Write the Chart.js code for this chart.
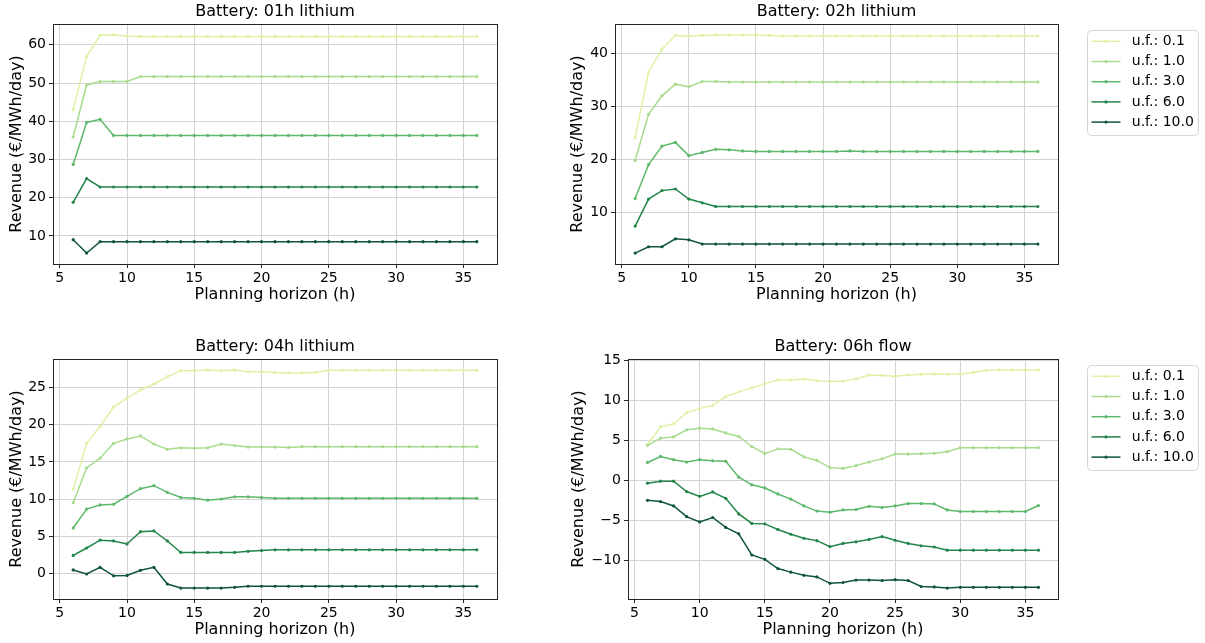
<!DOCTYPE html>
<html lang="fr">
<head>
<meta charset="utf-8">
<title>Revenue vs planning horizon</title>
<script src="https://cdn.jsdelivr.net/npm/chart.js@4.4.1/dist/chart.umd.min.js"></script>
<style>
    html, body { margin: 0; padding: 0; background: #fff; }
    #figure { position: relative; width: 1205px; height: 643px; overflow: hidden; }
    #figure canvas { position: absolute; }
</style>
</head>
<body>
<div id="figure">
    <canvas id="graphique-01h" width="530" height="320" style="left:0px;top:0px"></canvas>
    <canvas id="graphique-02h" width="645" height="320" style="left:560px;top:0px"></canvas>
    <canvas id="graphique-04h" width="530" height="313" style="left:0px;top:330px"></canvas>
    <canvas id="graphique-06h" width="645" height="313" style="left:560px;top:330px"></canvas>
</div>
<script>
/* global Chart */

// Horizon de planification (h), commun aux 4 graphiques
const horizons = [6, 7, 8, 9, 10, 11, 12, 13, 14, 15,
    16, 17, 18, 19, 20, 21, 22, 23, 24, 25,
    26, 27, 28, 29, 30, 31, 32, 33, 34, 35,
    36];

const facteurs = ["u.f.: 0.1", "u.f.: 1.0", "u.f.: 3.0", "u.f.: 6.0", "u.f.: 10.0"];
const xTicks = [5, 10, 15, 20, 25, 30, 35];

// Battery: 01h lithium
const lithium01h_uf01 = [43.0, 57.0, 62.5, 62.6, 62.3, 62.2, 62.2, 62.2, 62.2, 62.2,
    62.2, 62.2, 62.2, 62.2, 62.2, 62.2, 62.2, 62.2, 62.2, 62.2,
    62.2, 62.2, 62.2, 62.2, 62.2, 62.2, 62.2, 62.2, 62.2, 62.2,
    62.2];
const lithium01h_uf1 = [35.9, 49.5, 50.4, 50.4, 50.4, 51.7, 51.7, 51.7, 51.7, 51.7,
    51.7, 51.7, 51.7, 51.7, 51.7, 51.7, 51.7, 51.7, 51.7, 51.7,
    51.7, 51.7, 51.7, 51.7, 51.7, 51.7, 51.7, 51.7, 51.7, 51.7,
    51.7];
const lithium01h_uf3 = [28.7, 39.7, 40.5, 36.3, 36.3, 36.3, 36.3, 36.3, 36.3, 36.3,
    36.3, 36.3, 36.3, 36.3, 36.3, 36.3, 36.3, 36.3, 36.3, 36.3,
    36.3, 36.3, 36.3, 36.3, 36.3, 36.3, 36.3, 36.3, 36.3, 36.3,
    36.3];
const lithium01h_uf6 = [18.8, 25.0, 22.8, 22.8, 22.8, 22.8, 22.8, 22.8, 22.8, 22.8,
    22.8, 22.8, 22.8, 22.8, 22.8, 22.8, 22.8, 22.8, 22.8, 22.8,
    22.8, 22.8, 22.8, 22.8, 22.8, 22.8, 22.8, 22.8, 22.8, 22.8,
    22.8];
const lithium01h_uf10 = [9.0, 5.5, 8.5, 8.5, 8.5, 8.5, 8.5, 8.5, 8.5, 8.5,
    8.5, 8.5, 8.5, 8.5, 8.5, 8.5, 8.5, 8.5, 8.5, 8.5,
    8.5, 8.5, 8.5, 8.5, 8.5, 8.5, 8.5, 8.5, 8.5, 8.5,
    8.5];

// Battery: 02h lithium
const lithium02h_uf01 = [24.1, 36.5, 40.8, 43.4, 43.3, 43.4, 43.5, 43.5, 43.5, 43.5,
    43.4, 43.3, 43.3, 43.3, 43.3, 43.3, 43.3, 43.3, 43.3, 43.3,
    43.3, 43.3, 43.3, 43.3, 43.3, 43.3, 43.3, 43.3, 43.3, 43.3,
    43.3];
const lithium02h_uf1 = [19.8, 28.5, 32.0, 34.2, 33.7, 34.7, 34.7, 34.6, 34.6, 34.6,
    34.6, 34.6, 34.6, 34.6, 34.6, 34.6, 34.6, 34.6, 34.6, 34.6,
    34.6, 34.6, 34.6, 34.6, 34.6, 34.6, 34.6, 34.6, 34.6, 34.6,
    34.6];
const lithium02h_uf3 = [12.6, 19.0, 22.5, 23.2, 20.7, 21.3, 21.9, 21.8, 21.6, 21.5,
    21.5, 21.5, 21.5, 21.5, 21.5, 21.5, 21.6, 21.5, 21.5, 21.5,
    21.5, 21.5, 21.5, 21.5, 21.5, 21.5, 21.5, 21.5, 21.5, 21.5,
    21.5];
const lithium02h_uf6 = [7.4, 12.5, 14.1, 14.4, 12.5, 11.8, 11.1, 11.1, 11.1, 11.1,
    11.1, 11.1, 11.1, 11.1, 11.1, 11.1, 11.1, 11.1, 11.1, 11.1,
    11.1, 11.1, 11.1, 11.1, 11.1, 11.1, 11.1, 11.1, 11.1, 11.1,
    11.1];
const lithium02h_uf10 = [2.3, 3.5, 3.5, 5.0, 4.8, 4.0, 4.0, 4.0, 4.0, 4.0,
    4.0, 4.0, 4.0, 4.0, 4.0, 4.0, 4.0, 4.0, 4.0, 4.0,
    4.0, 4.0, 4.0, 4.0, 4.0, 4.0, 4.0, 4.0, 4.0, 4.0,
    4.0];

// Battery: 04h lithium
const lithium04h_uf01 = [11.3, 17.5, 19.8, 22.4, 23.6, 24.7, 25.5, 26.5, 27.3, 27.3,
    27.4, 27.3, 27.4, 27.15, 27.15, 27.05, 27.0, 27.0, 27.05, 27.35,
    27.35, 27.35, 27.35, 27.35, 27.35, 27.35, 27.35, 27.35, 27.35, 27.35,
    27.35];
const lithium04h_uf1 = [9.5, 14.2, 15.5, 17.5, 18.1, 18.5, 17.4, 16.7, 16.9, 16.85,
    16.9, 17.4, 17.2, 17.0, 17.0, 17.0, 16.95, 17.05, 17.05, 17.05,
    17.05, 17.05, 17.05, 17.05, 17.05, 17.05, 17.05, 17.05, 17.05, 17.05,
    17.05];
const lithium04h_uf3 = [6.1, 8.65, 9.2, 9.3, 10.35, 11.4, 11.8, 10.9, 10.2, 10.1,
    9.85, 10.0, 10.3, 10.3, 10.2, 10.1, 10.1, 10.1, 10.1, 10.1,
    10.1, 10.1, 10.1, 10.1, 10.1, 10.1, 10.1, 10.1, 10.1, 10.1,
    10.1];
const lithium04h_uf6 = [2.4, 3.4, 4.45, 4.35, 3.95, 5.6, 5.7, 4.35, 2.8, 2.8,
    2.8, 2.8, 2.8, 2.95, 3.05, 3.15, 3.15, 3.15, 3.15, 3.15,
    3.15, 3.15, 3.15, 3.15, 3.15, 3.15, 3.15, 3.15, 3.15, 3.15,
    3.15];
const lithium04h_uf10 = [0.45, -0.1, 0.8, -0.35, -0.3, 0.4, 0.8, -1.45, -2.0, -2.0,
    -2.0, -2.0, -1.9, -1.75, -1.75, -1.75, -1.75, -1.75, -1.75, -1.75,
    -1.75, -1.75, -1.75, -1.75, -1.75, -1.75, -1.75, -1.75, -1.75, -1.75,
    -1.75];

// Battery: 06h flow
const flux06h_uf01 = [4.5, 6.7, 7.1, 8.5, 9.0, 9.4, 10.5, 11.1, 11.6, 12.1,
    12.6, 12.6, 12.7, 12.5, 12.4, 12.45, 12.7, 13.2, 13.15, 13.05,
    13.2, 13.3, 13.35, 13.3, 13.35, 13.55, 13.8, 13.85, 13.85, 13.85,
    13.85];
const flux06h_uf1 = [4.4, 5.3, 5.45, 6.35, 6.55, 6.45, 5.95, 5.5, 4.25, 3.35,
    3.95, 3.9, 2.95, 2.5, 1.6, 1.5, 1.85, 2.3, 2.7, 3.3,
    3.3, 3.35, 3.4, 3.6, 4.1, 4.1, 4.1, 4.1, 4.1, 4.1,
    4.1];
const flux06h_uf3 = [2.25, 3.0, 2.6, 2.3, 2.6, 2.45, 2.4, 0.4, -0.55, -0.95,
    -1.7, -2.35, -3.2, -3.85, -4.0, -3.7, -3.65, -3.25, -3.4, -3.2,
    -2.9, -2.9, -2.95, -3.7, -3.9, -3.9, -3.9, -3.9, -3.9, -3.9,
    -3.15];
const flux06h_uf6 = [-0.35, -0.1, -0.1, -1.4, -2.0, -1.45, -2.25, -4.2, -5.4, -5.45,
    -6.15, -6.75, -7.25, -7.55, -8.3, -7.9, -7.7, -7.4, -7.05, -7.5,
    -7.9, -8.2, -8.35, -8.75, -8.75, -8.75, -8.75, -8.75, -8.75, -8.75,
    -8.75];
const flux06h_uf10 = [-2.5, -2.65, -3.2, -4.55, -5.2, -4.65, -5.9, -6.7, -9.35, -9.9,
    -11.05, -11.5, -11.9, -12.1, -12.9, -12.8, -12.5, -12.5, -12.55, -12.45,
    -12.55, -13.3, -13.35, -13.5, -13.4, -13.4, -13.4, -13.4, -13.4, -13.4,
    -13.4];

// Couleurs des courbes (jaune clair -> vert foncé)
const couleurs = ["#ddf2a6", "#a9db8e", "#5cb96a", "#238549", "#0f5536"];

Chart.defaults.font.family = "'DejaVu Sans', sans-serif";
Chart.defaults.color = "#000";

// Cadre noir autour de la zone de tracé (comme les "spines" matplotlib)
const cadre = {
    id: "cadre",
    afterDatasetsDraw(chart) {
        const { ctx, chartArea: a } = chart;
        ctx.save();
        ctx.strokeStyle = "#262626";
        ctx.lineWidth = 1;
        const l = Math.round(a.left) + 0.5, t = Math.round(a.top) + 0.5;
        const r = Math.round(a.right) + 0.5, b = Math.round(a.bottom) + 0.5;
        ctx.strokeRect(l, t, r - l, b - t);
        ctx.restore();
    }
};

// Légende encadrée à droite du graphique
const legendeCadre = {
    id: "legendeCadre",
    afterDraw(chart, args, opts) {
        if (!opts.afficher) return;
        const ctx = chart.ctx;
        const { x, y, largeur, hauteur } = opts;
        ctx.save();
        ctx.beginPath();
        ctx.roundRect(x + 0.5, y + 0.5, largeur, hauteur, 4);
        ctx.fillStyle = "rgba(255,255,255,0.8)";
        ctx.fill();
        ctx.strokeStyle = "#d6d6d6";
        ctx.lineWidth = 1;
        ctx.stroke();
        ctx.font = "14px 'DejaVu Sans'";
        ctx.textBaseline = "middle";
        ctx.textAlign = "left";
        chart.data.datasets.forEach((ds, i) => {
            const yl = y + 11.3 + i * 20.2;
            ctx.strokeStyle = ds.borderColor;
            ctx.lineWidth = 1.5;
            ctx.beginPath();
            ctx.moveTo(x + 4.5, yl);
            ctx.lineTo(x + 33.5, yl);
            ctx.stroke();
            ctx.fillStyle = ds.borderColor;
            ctx.beginPath();
            ctx.arc(x + 19, yl, 1.6, 0, Math.PI * 2);
            ctx.fill();
            ctx.fillStyle = "#000";
            ctx.fillText(ds.label, x + 44.8, yl);
        });
        ctx.restore();
    }
};

function afficherGraphique(idCanvas, titre, series, yTicks, geo) {
    // marges de 5 % comme matplotlib
    const toutes = series.flat();
    const yMin = Math.min(...toutes), yMax = Math.max(...toutes);
    const margeY = (yMax - yMin) * 0.05;
    const xMin = horizons[0], xMax = horizons[horizons.length - 1];
    const margeX = (xMax - xMin) * 0.05;

    const datasets = series.map((valeurs, i) => ({
        label: facteurs[i],
        data: valeurs.map((v, j) => ({ x: horizons[j], y: v })),
        borderColor: couleurs[i],
        backgroundColor: couleurs[i],
        pointBackgroundColor: couleurs[i],
        borderWidth: 1.5,
        pointRadius: 1.6,
        pointBorderWidth: 0,
        pointHoverRadius: 0,
        tension: 0,
        order: series.length - i
    }));

    const grille = {
        color: "#d3d3d3",
        lineWidth: 1,
        drawTicks: true,
        tickLength: 4,
        tickColor: "#262626"
    };

    const config = {
        type: "line",
        data: { datasets: datasets },
        options: {
            responsive: false,
            animation: false,
            events: [],
            layout: { padding: { left: 0, right: geo.droite, top: geo.haut, bottom: 0 } },
            plugins: {
                legend: { display: false },
                tooltip: { enabled: false },
                title: {
                    display: true,
                    text: titre,
                    fullSize: false,
                    color: "#000",
                    font: { size: 16, weight: "normal", lineHeight: 1.25 },
                    padding: { top: 0, bottom: 2 }
                },
                legendeCadre: geo.legende
            },
            scales: {
                x: {
                    type: "linear",
                    min: xMin - margeX,
                    max: xMax + margeX,
                    afterBuildTicks: (s) => { s.ticks = xTicks.map(v => ({ value: v })); },
                    afterFit: (s) => { s.height = geo.hauteurX; },
                    grid: grille,
                    border: { display: false },
                    ticks: { font: { size: 14 }, color: "#000", padding: 2, maxRotation: 0 },
                    title: {
                        display: true,
                        text: "Planning horizon (h)",
                        color: "#000",
                        font: { size: 16, lineHeight: 1.25 },
                        padding: { top: 0, bottom: geo.basTitreX }
                    }
                },
                y: {
                    type: "linear",
                    min: yMin - margeY,
                    max: yMax + margeY,
                    afterBuildTicks: (s) => { s.ticks = yTicks.map(v => ({ value: v })); },
                    afterFit: (s) => { s.width = geo.largeurY; },
                    grid: grille,
                    border: { display: false },
                    ticks: {
                        font: { size: 14 },
                        color: "#000",
                        padding: 3,
                        callback: (v) => String(v).replace("-", "\u2212")
                    },
                    title: {
                        display: true,
                        text: "Revenue (€/MWh/day)",
                        color: "#000",
                        font: { size: 16, lineHeight: 1.25 },
                        padding: { top: geo.padTitreY, bottom: 0 }
                    }
                }
            }
        },
        plugins: [cadre, legendeCadre]
    };

    new Chart(document.getElementById(idCanvas), config);
}

afficherGraphique("graphique-01h", "Battery: 01h lithium",
    [lithium01h_uf01, lithium01h_uf1, lithium01h_uf3, lithium01h_uf6, lithium01h_uf10],
    [10, 20, 30, 40, 50, 60],
    { haut: 2, droite: 33, largeurY: 53, hauteurX: 56, basTitreX: 15, padTitreY: 7, legende: { afficher: false } });

afficherGraphique("graphique-02h", "Battery: 02h lithium",
    [lithium02h_uf01, lithium02h_uf1, lithium02h_uf3, lithium02h_uf6, lithium02h_uf10],
    [10, 20, 30, 40],
    { haut: 2, droite: 147, largeurY: 55, hauteurX: 56, basTitreX: 15, padTitreY: 8,
      legende: { afficher: true, x: 527, y: 30, largeur: 111, hauteur: 105 } });

afficherGraphique("graphique-04h", "Battery: 04h lithium",
    [lithium04h_uf01, lithium04h_uf1, lithium04h_uf3, lithium04h_uf6, lithium04h_uf10],
    [0, 5, 10, 15, 20, 25],
    { haut: 7, droite: 33, largeurY: 53, hauteurX: 44, basTitreX: 3, padTitreY: 7, legende: { afficher: false } });

afficherGraphique("graphique-06h", "Battery: 06h flow",
    [flux06h_uf01, flux06h_uf1, flux06h_uf3, flux06h_uf6, flux06h_uf10],
    [-10, -5, 0, 5, 10, 15],
    { haut: 7, droite: 147, largeurY: 68, hauteurX: 44, basTitreX: 3, padTitreY: 9,
      legende: { afficher: true, x: 527, y: 35, largeur: 111, hauteur: 105 } });
</script>
</body>
</html>
